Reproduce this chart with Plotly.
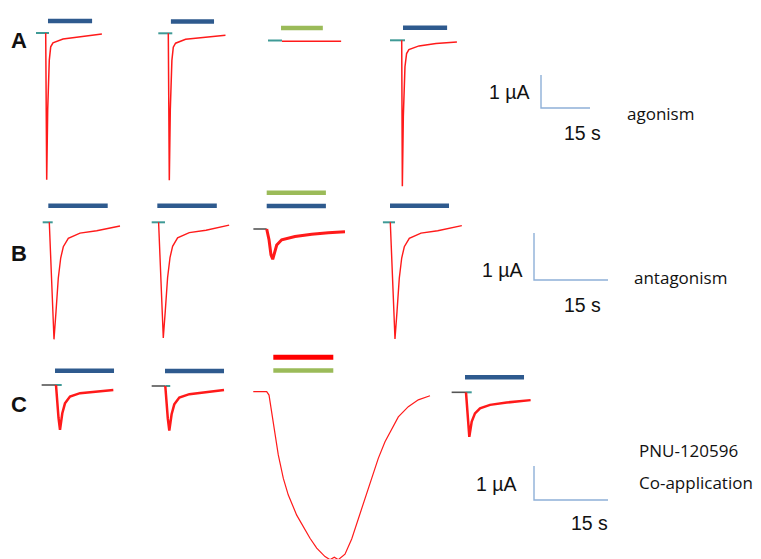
import plotly.graph_objects as go

# ---------------- DATA ----------------
# time (s) relative to drug onset, current (µA) relative to baseline
A1_t = [0, 0.31, 0.61, 0.86, 1.10, 1.53, 2.23, 5.3, 10.5, 17.2]
A1_i = [0, -4.45, -2.33, -1.42, -0.82, -0.42, -0.30, -0.18, -0.12, -0.03]
A2_t = [0, 0.31, 0.61, 0.86, 1.10, 1.53, 2.23, 5.3, 10.5, 17.5]
A2_i = [0, -4.45, -2.33, -1.42, -0.82, -0.42, -0.30, -0.18, -0.12, -0.06]
A3_t = [0, 18.1]
A3_i = [-0.02, -0.02]
A4_t = [0, 0.2, 0.5, 0.75, 1.0, 1.5, 2.2, 5.3, 10.5, 16.9]
A4_i = [0, -4.42, -2.3, -1.4, -0.8, -0.4, -0.28, -0.17, -0.10, -0.05]

B1_t = [0, 0.95, 1.36, 1.82, 2.31, 2.84, 3.85, 6.22, 9.61, 14.33]
B1_i = [0, -2.49, -1.90, -1.19, -0.76, -0.52, -0.34, -0.23, -0.18, -0.08]
B2_t = [0, 0.95, 1.36, 1.82, 2.31, 2.84, 3.85, 6.22, 9.61, 14.3]
B2_i = [0, -2.46, -1.88, -1.18, -0.75, -0.51, -0.33, -0.22, -0.17, -0.06]
B3_t = [0, 0.47, 0.87, 1.22, 2.03, 3.04, 5.74, 9.12, 12.49, 15.87]
B3_i = [0, -0.23, -0.55, -0.645, -0.34, -0.23, -0.16, -0.11, -0.08, -0.06]
B4_t = [0, 0.95, 1.36, 1.82, 2.31, 2.84, 3.85, 6.22, 9.61, 14.5]
B4_i = [0, -2.48, -1.90, -1.19, -0.76, -0.52, -0.34, -0.23, -0.18, -0.07]

C1_t = [0, 0.2, 0.51, 0.81, 1.28, 1.82, 2.84, 4.87, 8.25, 11.62]
C1_i = [0, -0.44, -0.97, -1.32, -0.83, -0.54, -0.34, -0.24, -0.19, -0.15]
C2_t = [0, 0.2, 0.51, 0.81, 1.28, 1.82, 2.84, 4.87, 8.25, 11.9]
C2_i = [0, -0.44, -0.96, -1.31, -0.83, -0.54, -0.34, -0.24, -0.19, -0.12]
C3_t = [-2.72, 0, 0.47, 1.01, 1.68, 2.35, 3.37, 4.38, 6.08, 7.42, 8.78, 10.14, 11.82,
        12.83, 13.70, 14.51, 15.87, 17.23, 18.57, 19.93, 21.29, 22.62, 23.98, 25.34,
        26.68, 28.70, 30.73, 33.10]
C3_i = [0, 0, -0.10, -0.58, -1.27, -1.86, -2.55, -3.04, -3.63, -3.97, -4.31, -4.60, -4.85,
        -4.94, -4.87, -4.94, -4.78, -4.33, -3.74, -3.15, -2.56, -1.96, -1.47, -1.08,
        -0.74, -0.44, -0.24, -0.12]
C4_t = [0, 0.2, 0.45, 0.67, 1.16, 1.82, 2.84, 4.87, 8.25, 13.1]
C4_i = [0, -0.45, -0.95, -1.31, -0.86, -0.62, -0.47, -0.37, -0.30, -0.23]

# drug application bars: (kind, start s, end s, level µA above baseline)
A1_bars = [("ach", 0.7, 14.2, 0.36)]
A2_bars = [("ach", 0.8, 14.0, 0.36)]
A3_bars = [("test", -0.3, 12.5, 0.38)]
A4_bars = [("ach", 0.4, 13.9, 0.38)]
B1_bars = [("ach", -0.2, 11.84, 0.35)]
B2_bars = [("ach", -0.26, 11.8, 0.35)]
B3_bars = [("test", 0, 12.0, 0.77), ("ach", 0, 12.0, 0.49)]
B4_bars = [("ach", -0.06, 11.9, 0.35)]
C1_bars = [("ach", -0.2, 11.76, 0.42)]
C2_bars = [("ach", -0.06, 11.9, 0.44)]
C3_bars = [("pnu", 1.34, 13.5, 1.01), ("test", 1.34, 13.5, 0.62)]
C4_bars = [("ach", -0.2, 11.76, 0.44)]

# pre-application baselines: (kind, start s, end s)
A1_base = [("teal", -2.97, 1.01)]
A2_base = [("teal", -3.06, 1.22)]
A3_base = [("teal", -4.29, 0)]
A4_base = [("teal", -3.58, 1.01)]
B1_base = [("teal", -1.34, 0.69)]
B2_base = [("teal", -1.4, 1.3)]
B3_base = [("black", -2.7, 0)]
B4_base = [("teal", -1.5, 0.95)]
C1_base = [("black", -2.91, 0), ("teal", 0, 1.16)]
C2_base = [("black", -2.76, 0), ("teal", 0, 1.0)]
C3_base = []
C4_base = [("black", -2.91, 0), ("teal", 0, 1.16)]

SCALE_T = 15   # s
SCALE_I = 1    # µA

# ---------------- LAYOUT / STYLE ----------------
OFF = 8                      # page body margin
W, H = 761 - OFF, 559 - OFF  # figure size inside the window
ROWS = {  # px per s, px per µA, axis suffix
    "A": dict(sx=49 / 15, sy=33, ax=""),
    "B": dict(sx=74 / 15, sy=47, ax="2"),
    "C": dict(sx=74 / 15, sy=34, ax="3"),
}
# (row, onset x in window px, baseline y in window px, ...)
PANELS = [
    ("A", 45.7, 33.0, A1_t, A1_i, A1_bars, A1_base, 1.5),
    ("A", 168.3, 33.3, A2_t, A2_i, A2_bars, A2_base, 1.5),
    ("A", 282.0, 40.5, A3_t, A3_i, A3_bars, A3_base, 1.5),
    ("A", 401.7, 40.3, A4_t, A4_i, A4_bars, A4_base, 1.5),
    ("B", 49.3, 222.3, B1_t, B1_i, B1_bars, B1_base, 1.4),
    ("B", 158.6, 222.3, B2_t, B2_i, B2_bars, B2_base, 1.4),
    ("B", 266.7, 229.0, B3_t, B3_i, B3_bars, B3_base, 3.0),
    ("B", 390.3, 222.3, B4_t, B4_i, B4_bars, B4_base, 1.4),
    ("C", 56.0, 385.0, C1_t, C1_i, C1_bars, C1_base, 2.5),
    ("C", 165.3, 386.0, C2_t, C2_i, C2_bars, C2_base, 2.5),
    ("C", 266.7, 391.7, C3_t, C3_i, C3_bars, C3_base, 1.2),
    ("C", 466.0, 392.3, C4_t, C4_i, C4_bars, C4_base, 2.5),
]
SCALEBARS = {"A": (541, 108), "B": (534, 280), "C": (534, 500)}

RED = "#FF1A1A"
BAR_COL = {"ach": "#2E5A8E", "test": "#9BBB59", "pnu": "#FF0000"}
BASE_COL = {"teal": "#3F9A96", "black": "#555555"}
SCALE_COL = "#8EB0D8"

fig = go.Figure()


def axes(row):
    s = ROWS[row]["ax"]
    return "x" + s, "y" + s


def origin(row, px, py):
    cfg = ROWS[row]
    return (px - OFF) / cfg["sx"], -(py - OFF) / cfg["sy"]


for row, ox, oy, t, cur, bars, bases, lw in PANELS:
    x0, y0 = origin(row, ox, oy)
    xa, ya = axes(row)
    for kind, a, b in bases:
        fig.add_trace(go.Scatter(x=[x0 + a, x0 + b], y=[y0, y0], mode="lines",
                                 line=dict(color=BASE_COL[kind], width=2 if kind == "teal" else 1.6),
                                 xaxis=xa, yaxis=ya, hoverinfo="skip"))
    fig.add_trace(go.Scatter(x=[x0 + v for v in t], y=[y0 + v for v in cur], mode="lines",
                             line=dict(color=RED, width=lw),
                             xaxis=xa, yaxis=ya, hoverinfo="skip"))
    for kind, a, b, lev in bars:
        fig.add_trace(go.Scatter(x=[x0 + a, x0 + b], y=[y0 + lev, y0 + lev], mode="lines",
                                 line=dict(color=BAR_COL[kind], width=5 if kind == "pnu" else 4.5),
                                 xaxis=xa, yaxis=ya, hoverinfo="skip"))

for row, (cx, cy) in SCALEBARS.items():
    x0, y0 = origin(row, cx, cy)
    xa, ya = axes(row)
    fig.add_trace(go.Scatter(x=[x0, x0, x0 + SCALE_T], y=[y0 + SCALE_I, y0, y0], mode="lines",
                             line=dict(color=SCALE_COL, width=1.4),
                             xaxis=xa, yaxis=ya, hoverinfo="skip"))

layout_axes = {}
for row, cfg in ROWS.items():
    s = cfg["ax"]
    xr = [0, W / cfg["sx"]]
    yr = [-H / cfg["sy"], 0]
    xkw = dict(range=xr, visible=False, domain=[0, 1], anchor="y" + s, fixedrange=True)
    ykw = dict(range=yr, visible=False, domain=[0, 1], anchor="x" + s, fixedrange=True)
    if s:
        xkw["overlaying"] = "x"
        ykw["overlaying"] = "y"
    layout_axes["xaxis" + s] = xkw
    layout_axes["yaxis" + s] = ykw

ARIAL = "Liberation Sans, Arial, sans-serif"
CAL = "Open Sans, sans-serif"


def ann(text, x, y, size, family, bold=False, xanchor="center"):
    return dict(text=("<b>%s</b>" % text) if bold else text,
                x=(x - OFF) / W, y=1 - (y - OFF) / H,
                xref="paper", yref="paper", showarrow=False, xanchor=xanchor, yanchor="middle",
                font=dict(size=size, family=family, color="#111111"))


annotations = [
    ann("A", 19, 41, 22, ARIAL, True),
    ann("B", 19, 253, 22, ARIAL, True),
    ann("C", 19, 404, 22, ARIAL, True),
    ann("1 µA", 509, 92, 19.5, ARIAL),
    ann("15 s", 582, 133, 19.5, ARIAL),
    ann("agonism", 625, 113, 17, CAL, xanchor="left"),
    ann("1 µA", 502, 270, 19.5, ARIAL),
    ann("15 s", 582, 305, 19.5, ARIAL),
    ann("antagonism", 632, 277, 17, CAL, xanchor="left"),
    ann("1 µA", 496, 484, 19.5, ARIAL),
    ann("15 s", 589, 523, 19.5, ARIAL),
    ann("PNU-120596", 637, 450, 17, CAL, xanchor="left"),
    ann("Co-application", 637, 483, 17, CAL, xanchor="left"),
]

fig.update_layout(width=W, height=H, margin=dict(l=0, r=0, t=0, b=0),
                  paper_bgcolor="white", plot_bgcolor="white", showlegend=False,
                  annotations=annotations, **layout_axes)

fig.write_html("out.html", config={"displayModeBar": False})
